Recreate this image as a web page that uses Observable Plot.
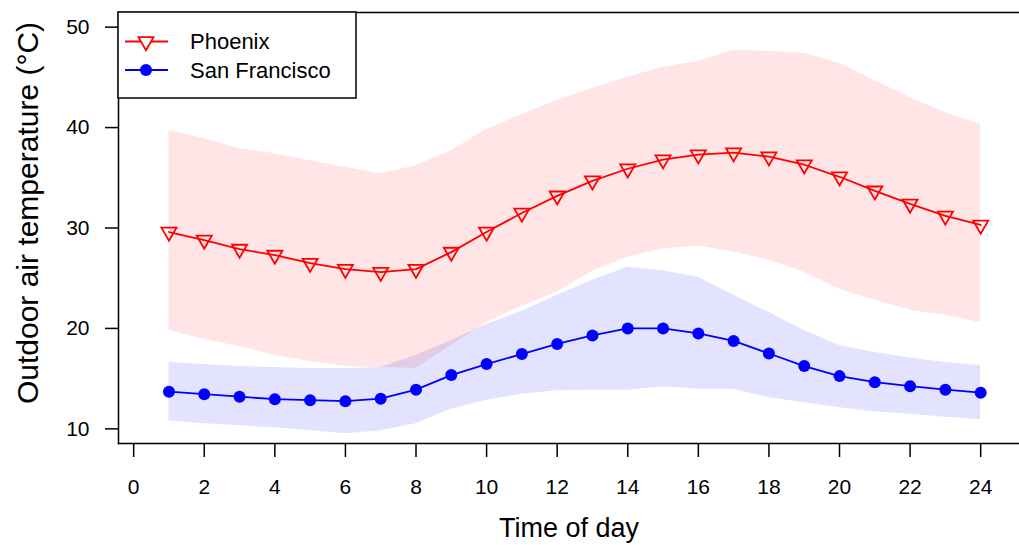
<!DOCTYPE html>
<html><head><meta charset="utf-8">
<script src="https://cdn.jsdelivr.net/npm/d3@7"></script>
<script src="https://cdn.jsdelivr.net/npm/@observablehq/plot@0.6"></script>
<style>
body{margin:0;background:#fff;}
#wrap{position:relative;width:1019px;height:545px;font-family:"Liberation Sans",Arial,sans-serif;}
#legend{position:absolute;left:0;top:0;pointer-events:none;}
</style></head><body><div id="wrap"></div>
<script>
const hours = [1,2,3,4,5,6,7,8,9,10,11,12,13,14,15,16,17,18,19,20,21,22,23,24];
const phxMean = [29.6,28.8,27.9,27.3,26.5,25.9,25.6,25.9,27.6,29.6,31.5,33.2,34.7,35.9,36.8,37.3,37.5,37.1,36.3,35.1,33.7,32.4,31.2,30.3];
const phxHigh = [39.7,38.9,37.9,37.4,36.7,36.05,35.4,36.2,37.7,39.8,41.3,42.7,43.9,45.0,46.0,46.6,47.7,47.6,47.4,46.4,44.7,43.0,41.5,40.3];
const phxLow  = [19.8,18.9,18.2,17.3,16.7,16.2,16.1,16.0,18.3,20.6,22.2,23.6,25.7,27.1,27.9,28.2,27.6,26.8,25.6,23.9,22.8,21.8,21.3,20.6];
const sfMean  = [13.7,13.45,13.2,12.95,12.85,12.75,13.0,13.9,15.35,16.45,17.45,18.45,19.3,20.0,20.0,19.5,18.75,17.5,16.25,15.25,14.65,14.25,13.9,13.6];
const sfHigh  = [16.6,16.4,16.2,16.1,16.0,16.0,16.1,17.3,18.8,20.4,21.7,23.3,24.8,26.1,25.75,25.1,23.3,21.6,19.8,18.3,17.6,17.05,16.6,16.3];
const sfLow   = [10.8,10.5,10.3,10.1,9.8,9.5,9.8,10.5,11.95,12.85,13.45,13.8,13.85,13.85,14.2,13.95,13.95,13.1,12.6,12.1,11.7,11.45,11.15,10.9];
const xTicks = [0,2,4,6,8,10,12,14,16,18,20,22,24];
const yTicks = [10,20,30,40,50];
const seriesNames = ["Phoenix","San Francisco"];
const xTitle = "Time of day";
const yTitle = "Outdoor air temperature (°C)";

const phx = hours.map((h,i)=>({hour:h, mean:phxMean[i], lo:phxLow[i], hi:phxHigh[i]}));
const sf  = hours.map((h,i)=>({hour:h, mean:sfMean[i], lo:sfLow[i], hi:sfHigh[i]}));

const triDown = {
  draw(ctx, size) {
    const R = Math.sqrt(size / Math.PI);
    const r = 1.5551 * R, xc = 1.3468 * R, yc = 0.7776 * R;
    ctx.moveTo(0, r);
    ctx.lineTo(xc, -yc);
    ctx.lineTo(-xc, -yc);
    ctx.closePath();
  }
};

const chart = Plot.plot({
  width: 1019, height: 545,
  marginLeft: 118, marginTop: 12, marginRight: 0, marginBottom: 102,
  style: {fontFamily: '"Liberation Sans", Arial, sans-serif', background: "white", color: "black"},
  x: {domain: [-0.43, 25.1]},
  y: {domain: [8.54, 51.46]},
  marks: [
    Plot.areaY(phx, {x: "hour", y1: "lo", y2: "hi", fill: "red", fillOpacity: 0.1}),
    Plot.areaY(sf, {x: "hour", y1: "lo", y2: "hi", fill: "blue", fillOpacity: 0.11}),
    Plot.line(phx, {x: "hour", y: "mean", stroke: "red", strokeWidth: 1.8}),
    Plot.dot(phx, {x: "hour", y: "mean", symbol: triDown, r: 5.6, stroke: "red", fill: "none", strokeWidth: 1.8}),
    Plot.line(sf, {x: "hour", y: "mean", stroke: "blue", strokeWidth: 1.8}),
    Plot.dot(sf, {x: "hour", y: "mean", r: 6, fill: "blue", stroke: "none"}),
    Plot.axisX({ticks: xTicks, tickSize: 14, tickPadding: 22, tickFormat: d => String(d), fontSize: 21, label: null, strokeWidth: 1.5}),
    Plot.axisY({ticks: yTicks, tickSize: 13, tickPadding: 16, tickFormat: d => String(d), fontSize: 21, label: null, strokeWidth: 1.5}),
    Plot.text([xTitle], {frameAnchor: "bottom", dy: 85, fontSize: 27, lineAnchor: "middle", textAnchor: "middle", fill: "black"}),
    Plot.text([yTitle], {frameAnchor: "left", dx: -90, dy: -15, rotate: -90, fontSize: 30, lineAnchor: "middle", textAnchor: "middle", fill: "black"}),
    Plot.frame({anchor: "left", stroke: "black", strokeWidth: 1.5}),
    Plot.frame({anchor: "top", stroke: "black", strokeWidth: 1.5}),
    Plot.frame({anchor: "bottom", stroke: "black", strokeWidth: 1.5})
  ]
});
const wrap = document.getElementById("wrap");
wrap.appendChild(chart);

// Legend overlay (top-left, inside the plot frame)
const leg = d3.select(wrap).append("svg").attr("id","legend").attr("width",1019).attr("height",545);
leg.append("rect").attr("x",118).attr("y",12).attr("width",238).attr("height",86)
  .attr("fill","white").attr("stroke","black").attr("stroke-width",1.5);
const entries = [
  {name: seriesNames[0], color: "red", y: 41.5, sym: "tri"},
  {name: seriesNames[1], color: "blue", y: 70, sym: "dot"}
];
const sym = d3.symbol().type(triDown).size(5.6*5.6*Math.PI);
entries.forEach(e => {
  leg.append("line").attr("x1",125).attr("x2",168).attr("y1",e.y).attr("y2",e.y)
    .attr("stroke",e.color).attr("stroke-width",1.8);
  if (e.sym === "tri") {
    leg.append("path").attr("d", sym()).attr("transform",`translate(146,${e.y})`)
      .attr("fill","white").attr("stroke",e.color).attr("stroke-width",1.8);
  } else {
    leg.append("circle").attr("cx",146).attr("cy",e.y).attr("r",6).attr("fill",e.color);
  }
  leg.append("text").attr("x",190).attr("y",e.y).attr("dy","0.35em")
    .attr("font-size",22).attr("font-family",'"Liberation Sans", Arial, sans-serif').text(e.name);
});
</script></body></html>
